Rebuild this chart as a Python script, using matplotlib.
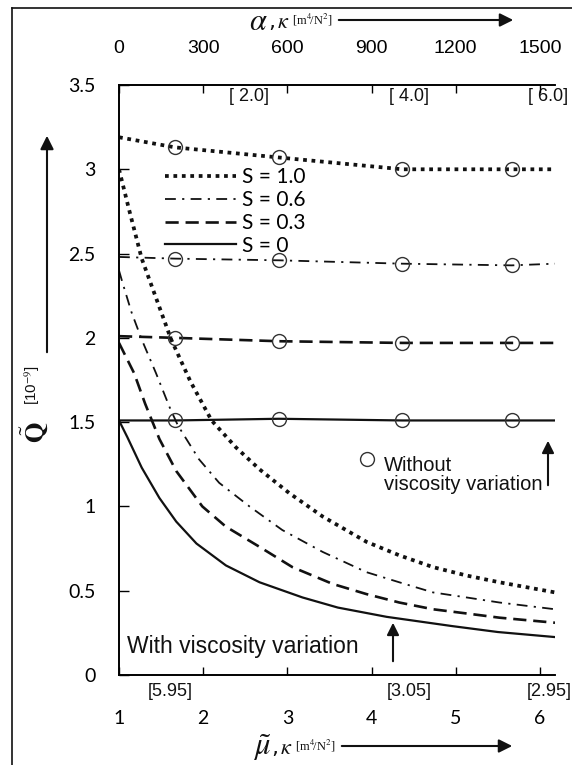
import numpy as np
import matplotlib
matplotlib.use("Agg")
import matplotlib.pyplot as plt
from matplotlib.lines import Line2D

plt.rcParams['mathtext.fontset'] = 'stix'

# "with viscosity variation" curves, Q~ against mu~
mu_s1 = [1.0, 1.12, 1.27, 1.62, 1.85, 2.1, 2.39, 2.67, 3.02, 3.42, 3.94, 4.33, 4.73, 5.13, 5.52, 6.18]
q_s1 = [3.00, 2.76, 2.47, 1.99, 1.74, 1.51, 1.35, 1.22, 1.08, 0.94, 0.79, 0.71, 0.64, 0.59, 0.55, 0.49]

mu_s06 = [1.0, 1.04, 1.15, 1.27, 1.44, 1.60, 1.70, 1.95, 2.19, 2.55, 2.94, 3.42, 3.94, 4.33, 4.73, 5.13, 5.52, 6.18]
q_s06 = [2.40, 2.33, 2.15, 1.99, 1.79, 1.59, 1.48, 1.28, 1.14, 1.00, 0.86, 0.73, 0.61, 0.55, 0.49, 0.46, 0.43, 0.39]

mu_s03 = [1.0, 1.18, 1.31, 1.48, 1.68, 1.99, 2.27, 2.67, 3.06, 3.54, 3.94, 4.33, 4.73, 5.13, 5.52, 6.18]
q_s03 = [1.97, 1.79, 1.61, 1.40, 1.21, 1.00, 0.88, 0.76, 0.64, 0.54, 0.48, 0.43, 0.39, 0.365, 0.34, 0.31]

mu_s0 = [1.0, 1.1, 1.27, 1.48, 1.68, 1.92, 2.27, 2.67, 3.18, 3.6, 4.18, 4.96, 5.5, 6.18]
q_s0 = [1.51, 1.41, 1.23, 1.05, 0.91, 0.78, 0.65, 0.55, 0.46, 0.40, 0.345, 0.29, 0.255, 0.225]

# "without viscosity variation" lines, Q~ against alpha
alpha = [0, 200, 570, 1010, 1400, 1554]
h_s1 = [3.19, 3.13, 3.07, 3.00, 3.00, 3.00]
h_s06 = [2.48, 2.47, 2.46, 2.44, 2.43, 2.44]
h_s03 = [2.01, 2.00, 1.98, 1.97, 1.97, 1.97]
h_s0 = [1.51, 1.51, 1.52, 1.51, 1.51, 1.51]

mu_ticks = [1, 2, 3, 4, 5, 6]
alpha_ticks = [0, 300, 600, 900, 1200, 1500]
q_ticks = [0, 0.5, 1, 1.5, 2, 2.5, 3, 3.5]
q_tick_labels = ['0', '0.5', '1', '1.5', '2', '2.5', '3', '3.5']

W, H = 572, 765


def fx(px):
    return px / W


def fy(py):
    return 1 - py / H


fig = plt.figure(figsize=(W / 100, H / 100), dpi=100)
ax = fig.add_axes([fx(119), fy(675), fx(555) - fx(119), fy(85) - fy(675)])
ax2 = ax.twiny()

ink = '#111111'
styles = {
    'S = 1.0': dict(linestyle=(0, (1, 1.25)), linewidth=2.7),
    'S = 0.6': dict(linestyle=(0, (6, 3.5, 1.2, 3.5)), linewidth=1.3),
    'S = 0.3': dict(linestyle=(0, (5, 2.6)), linewidth=1.9),
    'S = 0': dict(linestyle='-', linewidth=1.6),
}

curves = [('S = 1.0', mu_s1, q_s1, h_s1),
          ('S = 0.6', mu_s06, q_s06, h_s06),
          ('S = 0.3', mu_s03, q_s03, h_s03),
          ('S = 0', mu_s0, q_s0, h_s0)]

for name, mu, q, h in curves:
    ax.plot(mu, q, color=ink, **styles[name])
    ax2.plot(alpha, h, color=ink, label=name, **styles[name])
    ax2.plot(alpha[1:-1], h[1:-1], 'o', ms=10, mfc='none', mec='#333333', mew=1.0)

ax.set_xlim(1, 6.18)
ax.set_ylim(0, 3.5)
ax2.set_xlim(0, 1554)

for a in (ax, ax2):
    a.spines['right'].set_visible(False)
    for s in ['left', 'bottom', 'top']:
        a.spines[s].set_linewidth(1.2)

ax.set_yticks(q_ticks)
ax.set_yticklabels(q_tick_labels, fontfamily='Lato', fontsize=14)
ax.set_xticks(mu_ticks)
ax.set_xticklabels([str(m) for m in mu_ticks], fontfamily='Lato', fontsize=14)
ax.tick_params(axis='y', direction='in', length=7, width=1, pad=17)
ax.tick_params(axis='x', direction='in', length=6, width=1, pad=25)
ax2.set_xticks(alpha_ticks)
ax2.set_xticklabels([str(a) for a in alpha_ticks], fontfamily='Liberation Sans', fontsize=14)
ax2.tick_params(axis='x', direction='in', length=6, width=1, pad=20)

leg = ax2.legend(loc='upper left', bbox_to_anchor=(0.105, 0.861), borderpad=0, borderaxespad=0,
                 frameon=False, handlelength=3.4, handletextpad=0.3, labelspacing=0.14,
                 prop={'family': 'Lato', 'size': 15})

# bracket labels on the axes
for xm, s in [(2.55, '[ 2.0]'), (4.45, '[ 4.0]'), (6.1, '[ 6.0]')]:
    ax.text(xm, 3.43, s, ha='center', va='center', fontsize=13, family='Liberation Sans', color=ink)
for xm, s in [(1.6, '[5.95]'), (4.43, '[3.05]'), (6.1, '[2.95]')]:
    fig.text(fx(120 + (xm - 1) * 84.2), fy(692), s, ha='center', va='center', fontsize=13,
             family='Liberation Sans', color=ink)

# annotations
ax.plot([3.95], [1.28], 'o', ms=10, mfc='none', mec='#333333', mew=1.0)
ax.text(4.15, 1.30, 'Without\nviscosity variation', ha='left', va='top', fontsize=14.5,
        family='Liberation Sans', color=ink, linespacing=1.0)
fig.add_artist(plt.Annotation('', xy=(fx(548), fy(438)), xytext=(fx(548), fy(488)),
                              xycoords='figure fraction',
                              arrowprops=dict(arrowstyle='-|>', color=ink, lw=1.5, mutation_scale=18)))
fig.text(fx(127), fy(646), 'With viscosity variation', ha='left', va='center', fontsize=16.5,
         family='Liberation Sans', color=ink)
fig.add_artist(plt.Annotation('', xy=(fx(393), fy(620)), xytext=(fx(393), fy(664)),
                              xycoords='figure fraction',
                              arrowprops=dict(arrowstyle='-|>', color=ink, lw=1.5, mutation_scale=18)))

# axis titles with arrows
fig.text(fx(249), fy(22), r'$\alpha$', fontsize=22, ha='left', va='center', color=ink)
fig.text(fx(268), fy(22), r',$\,\kappa$', fontsize=16, ha='left', va='center', color=ink)
fig.text(fx(292), fy(20), r'[m$^4\!$/N$^2$]', fontsize=9, ha='left', va='center',
         family='Liberation Serif', color=ink)
fig.add_artist(plt.Annotation('', xy=(fx(516), fy(20)), xytext=(fx(336), fy(20)),
                              xycoords='figure fraction',
                              arrowprops=dict(arrowstyle='-|>', color=ink, lw=1.5, mutation_scale=20)))

fig.text(fx(253), fy(748), r'$\tilde{\mu}$', fontsize=22, ha='left', va='center', color=ink)
fig.text(fx(271), fy(748), r',$\,\kappa$', fontsize=16, ha='left', va='center', color=ink)
fig.text(fx(295), fy(746), r'[m$^4\!$/N$^2$]', fontsize=9, ha='left', va='center',
         family='Liberation Serif', color=ink)
fig.add_artist(plt.Annotation('', xy=(fx(515), fy(746)), xytext=(fx(339), fy(746)),
                              xycoords='figure fraction',
                              arrowprops=dict(arrowstyle='-|>', color=ink, lw=1.5, mutation_scale=20)))

fig.text(fx(34), fy(432), r'$\tilde{\mathbf{Q}}$', fontsize=19, rotation=90, ha='center', va='center', color=ink)
fig.text(fx(32), fy(385), r'[10$^{-9}$]', fontsize=11, rotation=90, ha='center', va='center',
         family='Liberation Sans', color=ink)
fig.add_artist(plt.Annotation('', xy=(fx(47), fy(133)), xytext=(fx(47), fy(355)),
                              xycoords='figure fraction',
                              arrowprops=dict(arrowstyle='-|>', color=ink, lw=1.5, mutation_scale=20)))

# outer frame (left and top edges)
fig.add_artist(Line2D([fx(12), fx(12)], [0, fy(8)], transform=fig.transFigure, color=ink, lw=1.2))
fig.add_artist(Line2D([fx(12), 1], [fy(8), fy(8)], transform=fig.transFigure, color=ink, lw=1.2))

fig.savefig('out.png', dpi=100)
